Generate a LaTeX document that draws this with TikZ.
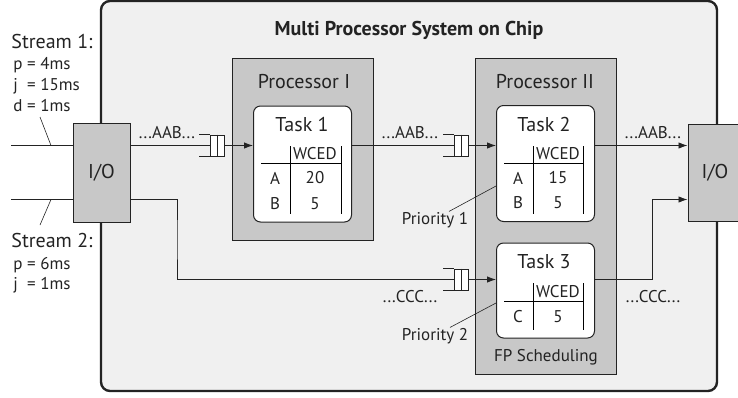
\documentclass[tikz,border=0pt]{standalone}
\usepackage{fontspec}
\setmainfont{PT Sans}
\usepackage{xcolor}
\definecolor{chipGray}{RGB}{240,240,240}
\definecolor{procGray}{RGB}{200,200,200}
\definecolor{inkGray}{RGB}{35,35,35}
\usepackage{tikz}
\usetikzlibrary{positioning,arrows.meta}

\begin{document}
\begin{tikzpicture}[x=1pt, y=-1pt, text=inkGray, line width=0.9pt,
  bigtext/.style={font=\fontsize{20}{24}\selectfont},
  smalltext/.style={font=\fontsize{17}{20}\selectfont},
  chipbox/.style={draw=inkGray, fill=chipGray, line width=2.4pt, rounded corners=9pt, minimum width=616pt, minimum height=390pt},
  graybox/.style={draw=inkGray, fill=procGray, line width=1pt, inner sep=0pt},
  taskbox/.style={draw=inkGray, fill=white, line width=1pt, rounded corners=7pt, minimum width=98pt},
  queuebox/.style={draw=inkGray, fill=white, line width=0.9pt, minimum width=14pt, minimum height=21pt, inner sep=0pt},
  wire/.style={draw=inkGray},
  thin wire/.style={draw=inkGray, line width=0.6pt},
  flow/.style={draw=inkGray, -{Latex[length=9pt, width=6.5pt]}}]

\useasboundingbox (0,0) rectangle (738,397);

\node[chipbox] (chip) at (409,196) {};
\node[bigtext] (title) at (409,30) {\textbf{Multi Processor System on Chip}};

% stream inputs
\coordinate (s1in) at (11,145.5);
\coordinate (s2in) at (11,199.5);
\coordinate (tick1a) at (40,117);
\coordinate (tick1b) at (51,145.5);
\coordinate (tick2a) at (51,199.5);
\coordinate (tick2b) at (40,225);
\node[graybox, minimum width=57pt, minimum height=99pt] (io1) at (101.5,172.5) {};
\node[bigtext] (io1lbl) at (io1) {I/O};
\node[graybox, minimum width=57pt, minimum height=97pt] (io2) at (716.5,172.5) {};
\node[bigtext] (io2lbl) at (715,172.5) {I/O};
\draw[wire] (s1in) -- (s1in -| io1.west);
\draw[wire] (s2in) -- (s2in -| io1.west);
\draw[thin wire] (tick1a) -- (tick1b);
\draw[thin wire] (tick2a) -- (tick2b);

\node[bigtext, anchor=base west, inner sep=0pt] (s1) at (11,48) {Stream 1:};
\node[smalltext, anchor=base west, inner sep=0pt] (s1p) at (13,69) {p = 4ms};
\node[smalltext, anchor=base west, inner sep=0pt] (s1j) at (13,90) {\rlap{j}\phantom{p} = 15ms};
\node[smalltext, anchor=base west, inner sep=0pt] (s1d) at (13,111) {d = 1ms};
\node[bigtext, anchor=base west, inner sep=0pt] (s2) at (11,247) {Stream 2:};
\node[smalltext, anchor=base west, inner sep=0pt] (s2p) at (13,269) {p = 6ms};
\node[smalltext, anchor=base west, inner sep=0pt] (s2j) at (13,289) {\rlap{j}\phantom{p} = 1ms};

% processors
\node[graybox, minimum width=141pt, minimum height=182pt] (proc1) at (302.5,149) {};
\node[bigtext] (proc1lbl) at (304,82) {Processor I};
\node[graybox, minimum width=141pt, minimum height=316pt] (proc2) at (545.5,216) {};
\node[bigtext] (proc2lbl) at (545,82) {Processor II};
\node[smalltext] (fpsched) at (546,357) {FP Scheduling};

% tasks
\node[taskbox, minimum height=116pt] (task1) at (302.5,164) {};
\node[bigtext] (task1lbl) at (302,124) {Task 1};
\node[taskbox, minimum height=116pt] (task2) at (545.5,163.5) {};
\node[bigtext] (task2lbl) at (544,124) {Task 2};
\node[taskbox, minimum height=95pt] (task3) at (545.5,290.5) {};
\node[bigtext] (task3lbl) at (544,262) {Task 3};

\begin{scope}[shift={(task1.center)}, line width=0.8pt]
  \draw (-41.5,-1) -- (38.5,-1);
  \draw (-12.5,-18) -- (-12.5,50);
  \draw (38.5,-18) -- (38.5,50);
  \node[smalltext] (t1head) at (12.5,-10) {WCED};
  \node[smalltext] (t1a) at (-27.5,14) {A};
  \node[smalltext] (t1aval) at (12.5,14) {20};
  \node[smalltext] (t1b) at (-27.5,39.5) {B};
  \node[smalltext] (t1bval) at (12.5,39.5) {5};
\end{scope}
\begin{scope}[shift={(task2.center)}, line width=0.8pt]
  \draw (-41.5,-0.5) -- (37.5,-0.5);
  \draw (-12.5,-17.5) -- (-12.5,50.5);
  \draw (37.5,-17.5) -- (37.5,50.5);
  \node[smalltext] (t2head) at (12.5,-9.5) {WCED};
  \node[smalltext] (t2a) at (-27.5,14.5) {A};
  \node[smalltext] (t2aval) at (12.5,14.5) {15};
  \node[smalltext] (t2b) at (-27.5,39.5) {B};
  \node[smalltext] (t2bval) at (12.5,39.5) {5};
\end{scope}
\begin{scope}[shift={(task3.center)}, line width=0.8pt]
  \draw (-41.5,10.5) -- (37.5,10.5);
  \draw (-12.5,-7.5) -- (-12.5,39.5);
  \draw (37.5,-7.5) -- (37.5,39.5);
  \node[smalltext] (t3head) at (12.5,1.5) {WCED};
  \node[smalltext] (t3c) at (-27.5,26.5) {C};
  \node[smalltext] (t3cval) at (12.5,26.5) {5};
\end{scope}

% queues
\node[queuebox] (q1) at (217,145.5) {};
\node[queuebox] (q2) at (461,145.5) {};
\node[queuebox] (q3) at (461,279.5) {};
\foreach \q in {q1,q2,q3}{
  \draw[wire] (\q.north) -- (\q.south);
  \draw[wire] (\q.north west) -- ++(-11,0);
  \draw[wire] (\q.south west) -- ++(-11,0);
}

% data flow
\coordinate (bend2) at (177,240);
\coordinate (bend3) at (652,240);
\draw[wire] (q1.west -| io1.east) -- (q1.west);
\draw[flow] (q1.east) -- (q1.east -| task1.west);
\draw[wire] (q1 -| task1.east) -- (q2.west);
\draw[flow] (q2.east) -- (q2.east -| task2.west);
\draw[flow] (q2 -| task2.east) -- (q2 -| io2.west);
\draw[wire] (s2in -| io1.east) -| (bend2) |- (q3.west);
\draw[flow] (q3.east) -- (q3.east -| task3.west);
\draw[flow] (q3 -| task3.east) -| (bend3) |- (s2in -| io2.west);

\node[smalltext, anchor=base] (aab1) at (167,138) {...AAB...};
\node[smalltext, anchor=base] (aab2) at (410,138) {...AAB...};
\node[smalltext, anchor=base] (aab3) at (653,138) {...AAB...};
\node[smalltext, anchor=base] (ccc1) at (410,302) {...CCC...};
\node[smalltext, anchor=base] (ccc2) at (653,302) {...CCC...};

% priorities
\node[smalltext, anchor=base, inner sep=0pt] (prio1) at (435,224) {Priority 1};
\node[smalltext, anchor=base, inner sep=0pt] (prio2) at (435,340) {Priority 2};
\draw[thin wire] ([xshift=14pt]prio1.north) -- ([yshift=-22.5pt]task2.west);
\draw[thin wire] ([xshift=15pt]prio2.north) -- ([yshift=-12.5pt]task3.west);
\end{tikzpicture}
\end{document}
